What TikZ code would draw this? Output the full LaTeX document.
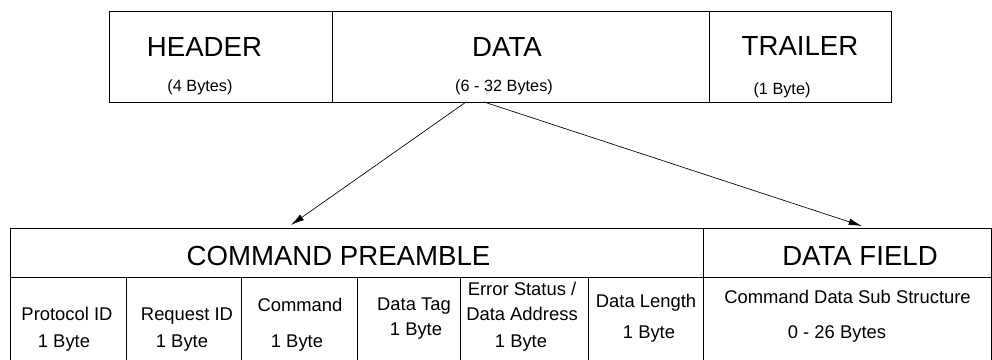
\documentclass[tikz,border=0pt]{standalone}
\usepackage{fontspec}
\setmainfont{Liberation Sans}
\usetikzlibrary{arrows.meta}

\newcommand{\boxtitle}{\fontsize{20.7}{24}\selectfont}
\newcommand{\boxsub}{\fontsize{12.2}{14}\selectfont}
\newcommand{\cellfont}{\fontsize{13.8}{16}\selectfont}

\begin{document}
\begin{tikzpicture}[x=0.75pt,y=0.75pt,yscale=-1,xscale=1,
	frame/.style={draw,line width=0.6pt,anchor=north west,inner sep=0pt,outer sep=0pt},
	toprow/.style={frame,minimum height=68.25pt},
	headrow/.style={frame,minimum height=36.75pt},
	cellrow/.style={frame,minimum height=63.75pt},
	txt/.style={anchor=base,inner sep=0pt},
	pointer/.style={line width=0.5pt,-{Latex[length=10pt,width=5pt]}}]
	\useasboundingbox (0,0) rectangle (992,360);
	
	%Frame: top packet
	\node [toprow,minimum width=167.25pt] (header) at (109,11) {};
	\node [toprow,minimum width=282.75pt] (data) at (header.north east) {};
	\node [toprow,minimum width=136.5pt] (trailer) at (data.north east) {};
	
	%Frame: preamble and data field
	\node [headrow,minimum width=519.75pt] (preamble) at (10,228) {};
	\node [headrow,minimum width=216pt] (field) at (preamble.north east) {};
	\node [cellrow,minimum width=87pt] (protocol) at (preamble.south west) {};
	\node [cellrow,minimum width=86.25pt] (request) at (protocol.north east) {};
	\node [cellrow,minimum width=87pt] (command) at (request.north east) {};
	\node [cellrow,minimum width=77.25pt] (tag) at (command.north east) {};
	\node [cellrow,minimum width=96pt] (status) at (tag.north east) {};
	\node [cellrow,minimum width=86.25pt] (length) at (status.north east) {};
	\node [cellrow,minimum width=216pt] (substruct) at (length.north east) {};
	
	%Arrows
	\coordinate (from pre) at (466,102);
	\coordinate (from field) at (484,102);
	\coordinate (to pre) at (291,225);
	\coordinate (to field) at (862,226);
	\draw [pointer] (from pre) -- (to pre);
	\draw [pointer] (from field) -- (to field);
	
	% Text Node
	\node [txt] (header title) at (204.5,57) {\boxtitle HEADER};
	\node [txt] (header size) at (200,92) {\boxsub (4 Bytes)};
	% Text Node
	\node [txt] (data title) at (507,57) {\boxtitle DATA};
	\node [txt] (data size) at (504,92) {\boxsub (6 - 32 Bytes)};
	% Text Node
	\node [txt] (trailer title) at (800,56) {\boxtitle TRAILER};
	\node [txt] (trailer size) at (782,94) {\boxsub (1 Byte)};
	% Text Node
	\node [txt] (preamble title) at (338.5,265) {\boxtitle COMMAND PREAMBLE};
	\node [txt] (field title) at (860,265) {\boxtitle DATA FIELD};
	% Text Node
	\node [txt] (protocol name) at (67,320) {\cellfont Protocol ID};
	\node [txt] (protocol size) at (64,347) {\cellfont 1 Byte};
	\node [txt] (request name) at (187,320) {\cellfont Request ID};
	\node [txt] (request size) at (182,347) {\cellfont 1 Byte};
	\node [txt] (command name) at (300,311) {\cellfont Command};
	\node [txt] (command size) at (297,347) {\cellfont 1 Byte};
	\node [txt] (tag name) at (414,310) {\cellfont Data Tag};
	\node [txt] (tag size) at (416,335) {\cellfont 1 Byte};
	\node [txt] (status name) at (522,295) {\cellfont Error Status /};
	\node [txt] (status addr) at (522,320) {\cellfont Data Address};
	\node [txt] (status size) at (521,347) {\cellfont 1 Byte};
	\node [txt] (length name) at (646,307) {\cellfont Data Length};
	\node [txt] (length size) at (649,338) {\cellfont 1 Byte};
	\node [txt] (substruct name) at (847.5,303) {\cellfont Command Data Sub Structure};
	\node [txt] (substruct size) at (837,338) {\cellfont 0 - 26 Bytes};
	
\end{tikzpicture}
\end{document}
